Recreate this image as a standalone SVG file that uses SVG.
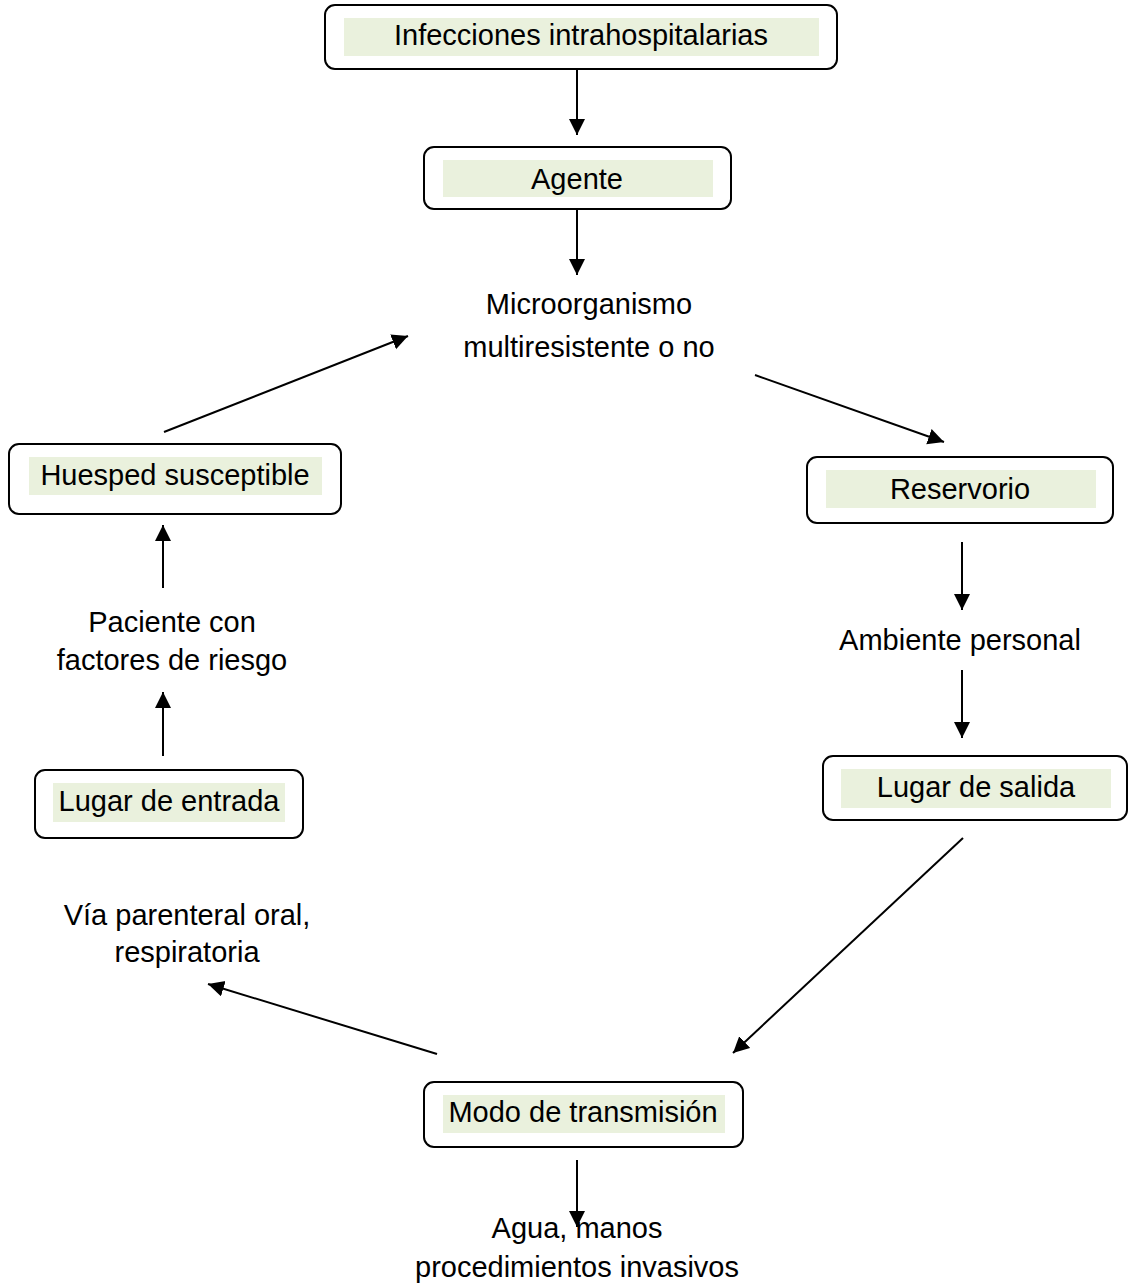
<svg xmlns="http://www.w3.org/2000/svg" width="1128" height="1285" viewBox="0 0 1128 1285">
<style>
.box{fill:#fff;stroke:#000;stroke-width:2}
.hl{fill:#eaf1dd}
.t{font-family:"Liberation Sans",Arial,sans-serif;font-size:29px;fill:#000;text-anchor:middle}
.c line{stroke:#000;stroke-width:2}
</style>
<defs>
<marker id="ah" markerUnits="userSpaceOnUse" markerWidth="18" markerHeight="18" refX="16" refY="8" orient="auto">
<path d="M0,0 L16,8 L0,16 z" fill="#000"/>
</marker>
</defs>
<rect width="1128" height="1285" fill="#fff"/>
<g class="c">
<line x1="577" y1="69" x2="577" y2="135" marker-end="url(#ah)"/>
<line x1="577" y1="209" x2="577" y2="275" marker-end="url(#ah)"/>
<line x1="164" y1="432" x2="408" y2="336" marker-end="url(#ah)"/>
<line x1="755" y1="375" x2="944" y2="442" marker-end="url(#ah)"/>
<line x1="962" y1="542" x2="962" y2="610" marker-end="url(#ah)"/>
<line x1="962" y1="670" x2="962" y2="738" marker-end="url(#ah)"/>
<line x1="963" y1="838" x2="733" y2="1053" marker-end="url(#ah)"/>
<line x1="437" y1="1054" x2="208" y2="984" marker-end="url(#ah)"/>
<line x1="163" y1="756" x2="163" y2="692" marker-end="url(#ah)"/>
<line x1="163" y1="588" x2="163" y2="525" marker-end="url(#ah)"/>
<line x1="577" y1="1160" x2="577" y2="1227" marker-end="url(#ah)"/>
</g>
<g id="n-infecciones">
<rect class="box" x="325" y="5" width="512" height="64" rx="10"/>
<rect class="hl" x="344" y="18" width="475" height="38"/>
<text class="t" x="581" y="45">Infecciones intrahospitalarias</text>
</g>
<g id="n-agente">
<rect class="box" x="424" y="147" width="307" height="62" rx="10"/>
<rect class="hl" x="443" y="160" width="270" height="37"/>
<text class="t" x="577" y="189">Agente</text>
</g>
<g id="n-micro">
<text class="t" x="589" y="314">Microorganismo</text>
<text class="t" x="589" y="357">multiresistente o no</text>
</g>
<g id="n-reservorio">
<rect class="box" x="807" y="457" width="306" height="66" rx="10"/>
<rect class="hl" x="826" y="470" width="270" height="38"/>
<text class="t" x="960" y="499">Reservorio</text>
</g>
<g id="n-ambiente">
<text class="t" x="960" y="650">Ambiente personal</text>
</g>
<g id="n-salida">
<rect class="box" x="823" y="756" width="304" height="64" rx="10"/>
<rect class="hl" x="841" y="769" width="270" height="39"/>
<text class="t" x="976" y="797">Lugar de salida</text>
</g>
<g id="n-huesped">
<rect class="box" x="9" y="444" width="332" height="70" rx="10"/>
<rect class="hl" x="29" y="457" width="293" height="38"/>
<text class="t" x="175" y="485">Huesped susceptible</text>
</g>
<g id="n-paciente">
<text class="t" x="172" y="632" fill="#111">Paciente con</text>
<text class="t" x="172" y="670" fill="#111">factores de riesgo</text>
</g>
<g id="n-entrada">
<rect class="box" x="35" y="770" width="268" height="68" rx="10"/>
<rect class="hl" x="53" y="783" width="232" height="39"/>
<text class="t" x="169" y="811">Lugar de entrada</text>
</g>
<g id="n-via">
<text class="t" x="187" y="925">Vía parenteral oral,</text>
<text class="t" x="187" y="962">respiratoria</text>
</g>
<g id="n-modo">
<rect class="box" x="424" y="1082" width="319" height="65" rx="10"/>
<rect class="hl" x="443" y="1095" width="282" height="38"/>
<text class="t" x="583" y="1122">Modo de transmisión</text>
</g>
<g id="n-agua">
<text class="t" x="577" y="1238">Agua, manos</text>
<text class="t" x="577" y="1277">procedimientos invasivos</text>
</g>
</svg>
